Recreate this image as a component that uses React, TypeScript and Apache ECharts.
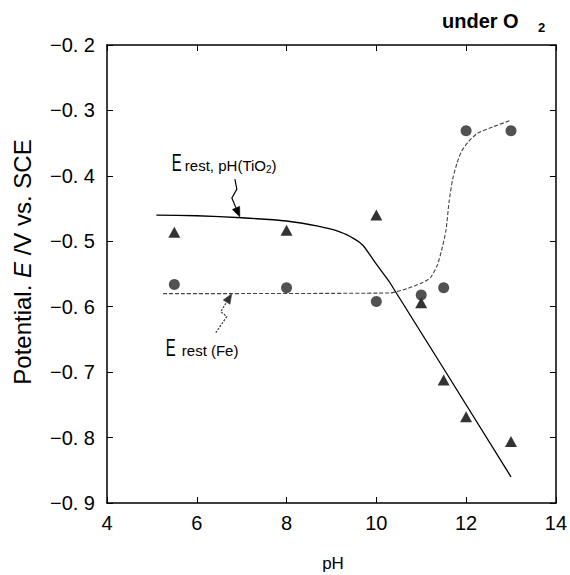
import React, { useEffect, useRef } from "react";
import * as echarts from "echarts";

// Axis ranges
const PH_MIN = 4;
const PH_MAX = 14;
const PH_STEP = 2;
const E_MIN = -0.9;
const E_MAX = -0.2;
const E_STEP = 0.1;

// Measured rest potentials: TiO2-coated electrode (triangles) and bare Fe (circles)
const tiO2PH = [5.5, 8, 10, 11, 11.5, 12, 13];
const tiO2E = [-0.486, -0.483, -0.46, -0.594, -0.712, -0.768, -0.806];
const fePH = [5.5, 8, 10, 11, 11.5, 12, 13];
const feE = [-0.566, -0.571, -0.592, -0.582, -0.571, -0.331, -0.331];

// Guide curves
const tiO2CurvePH = [5.1, 6, 7, 8, 8.7, 9.2, 9.5, 9.7, 9.85, 10, 10.3, 13];
const tiO2CurveE = [-0.46, -0.461, -0.464, -0.469, -0.477, -0.486, -0.496, -0.506, -0.52, -0.535, -0.563, -0.86];
const feCurvePH = [5.25, 10.3, 10.7, 11.0, 11.2, 11.35, 11.45, 11.55, 11.62, 11.7, 11.8, 11.9, 12.05, 12.25, 12.6, 13];
const feCurveE = [-0.58, -0.579, -0.572, -0.564, -0.556, -0.538, -0.515, -0.484, -0.44, -0.405, -0.38, -0.362, -0.348, -0.335, -0.325, -0.315];

// Annotation anchors on the curves
const tiO2LabelAnchor = [6.96, -0.463];
const feLabelAnchor = [6.78, -0.58];

const FONT = "'Liberation Sans', Arial, sans-serif";

const zip = (xs: number[], ys: number[]) => xs.map((x, i) => [x, ys[i]]);

const measureCtx = document.createElement("canvas").getContext("2d") as CanvasRenderingContext2D;
function textWidth(t: string, font: string) {
  measureCtx.font = font;
  return measureCtx.measureText(t).width;
}

function arrow(tip: number[], rel: number[][], color: string, dash: number[] | null) {
  const pts = rel.map(([dx, dy]) => [tip[0] + dx, tip[1] + dy]);
  const last = pts[pts.length - 1];
  let dx = tip[0] - last[0];
  let dy = tip[1] - last[1];
  const n = Math.hypot(dx, dy);
  dx /= n;
  dy /= n;
  const headLen = 10;
  const half = 4;
  const base = [tip[0] - dx * headLen, tip[1] - dy * headLen];
  const px = -dy;
  const py = dx;
  return [
    {
      type: "polyline",
      shape: { points: [...pts, base] },
      style: { stroke: color, lineWidth: 1.2, fill: null, lineDash: dash || undefined },
      silent: true,
    },
    {
      type: "polygon",
      shape: {
        points: [
          tip,
          [base[0] + px * half, base[1] + py * half],
          [base[0] - px * half, base[1] - py * half],
        ],
      },
      style: { fill: color, stroke: color, lineWidth: 0.5 },
      silent: true,
    },
  ];
}

function frameAxis(min: number, max: number, interval: number) {
  return {
    type: "value",
    min,
    max,
    interval,
    axisLine: { show: true, onZero: false, lineStyle: { color: "#000", width: 1.5 } },
    axisTick: { show: true, inside: true, length: 6, lineStyle: { color: "#000", width: 1 } },
    splitLine: { show: false },
  };
}

export default function App() {
  const ref = useRef<HTMLDivElement>(null);

  useEffect(() => {
    const chart = echarts.init(ref.current as HTMLDivElement, null, { renderer: "svg" });

    const option: any = {
      animation: false,
      backgroundColor: "#fff",
      grid: { left: 107, right: 13, top: 45, bottom: 72, containLabel: false },
      xAxis: [
        {
          ...frameAxis(PH_MIN, PH_MAX, PH_STEP),
          position: "bottom",
          axisLabel: { show: true, color: "#000", fontSize: 20, fontFamily: FONT, margin: 10 },
        },
        {
          ...frameAxis(PH_MIN, PH_MAX, PH_STEP),
          position: "top",
          axisLabel: { show: false },
        },
      ],
      yAxis: [
        {
          ...frameAxis(E_MIN, E_MAX, E_STEP),
          position: "left",
          axisLabel: {
            show: true,
            color: "#000",
            fontSize: 20,
            fontFamily: FONT,
            margin: 12,
            formatter: (v: number) => v.toFixed(1).replace("-", "\u2212").replace(".", ". "),
          },
        },
        {
          ...frameAxis(E_MIN, E_MAX, E_STEP),
          position: "right",
          axisLabel: { show: false },
        },
      ],
      series: [
        {
          type: "line",
          data: zip(tiO2CurvePH, tiO2CurveE),
          showSymbol: false,
          smooth: 0.2,
          lineStyle: { color: "#000", width: 1.3 },
          z: 2,
        },
        {
          type: "line",
          data: zip(feCurvePH, feCurveE),
          showSymbol: false,
          smooth: 0.2,
          lineStyle: { color: "#444", width: 1.1, type: [4, 2] },
          z: 2,
        },
        {
          type: "scatter",
          data: zip(tiO2PH, tiO2E),
          symbol: "triangle",
          symbolSize: [12, 11],
          itemStyle: { color: "#000" },
          z: 3,
        },
        {
          type: "scatter",
          data: zip(fePH, feE),
          symbol: "circle",
          symbolSize: 11,
          itemStyle: { color: "#262626" },
          z: 3,
        },
      ],
    };

    chart.setOption(option);

    const t1 = chart.convertToPixel({ xAxisIndex: 0, yAxisIndex: 0 }, tiO2LabelAnchor) as number[];
    const t2 = chart.convertToPixel({ xAxisIndex: 0, yAxisIndex: 0 }, feLabelAnchor) as number[];

    const smallFont = `15px ${FONT}`;
    const subFont = `10px ${FONT}`;
    const rest1 = "rest, pH(TiO";
    const rest1W = textWidth(rest1, smallFont);
    const subW = textWidth("2", subFont);

    const txt = (text: string, x: number, y: number, size: number, extra: any = {}, el: any = {}) => ({
      type: "text",
      x,
      y,
      silent: true,
      ...el,
      style: {
        text,
        fill: "#000",
        fontSize: size,
        fontFamily: FONT,
        align: "left",
        verticalAlign: "middle",
        ...extra,
      },
    });

    // Tall, narrow capital used for the "E rest" labels
    const narrowE = { scaleX: 0.62 };

    const graphic: any[] = [
      // title
      txt("under O", 442, 21, 20, { fontWeight: "bold" }),
      txt("2", 538, 27, 13, { fontWeight: "bold" }),
      // y-axis name
      {
        type: "text",
        x: 22,
        y: 262,
        rotation: Math.PI / 2,
        silent: true,
        style: {
          text: "{n|Potential. }{i|E}{n| /V vs. SCE}",
          align: "center",
          verticalAlign: "middle",
          rich: {
            n: { fontSize: 24, fontFamily: FONT, fill: "#000", color: "#000" },
            i: { fontSize: 24, fontFamily: FONT, fontStyle: "italic", fill: "#000", color: "#000" },
          },
        },
      },
      // x-axis name
      {
        type: "text",
        x: 333,
        y: 563,
        silent: true,
        style: { text: "pH", fontSize: 17, fontFamily: FONT, fill: "#000", align: "center", verticalAlign: "middle" },
      },
      // TiO2 curve label
      txt("E", t1[0] - 68, t1[1] - 54.5, 24, {}, narrowE),
      txt(rest1, t1[0] - 55, t1[1] - 51.5, 15),
      txt("2", t1[0] - 55 + rest1W, t1[1] - 47.5, 10),
      txt(")", t1[0] - 55 + rest1W + subW, t1[1] - 51.5, 15),
      ...arrow(t1, [[-5, -38], [-3, -28], [-8, -19]], "#000", null),
      // Fe curve label
      txt("E", t2[0] - 66, t2[1] + 53.5, 24, {}, narrowE),
      txt("rest (Fe)", t2[0] - 50, t2[1] + 57, 15),
      ...arrow(t2, [[-16, 39], [-5, 23], [-11, 18]], "#333", [2, 1.5]),
    ];

    chart.setOption({ graphic });

    return () => chart.dispose();
  }, []);

  return (
    <div
      ref={ref}
      style={{ position: "absolute", left: 0, top: 0, width: 570, height: 575 }}
    />
  );
}
